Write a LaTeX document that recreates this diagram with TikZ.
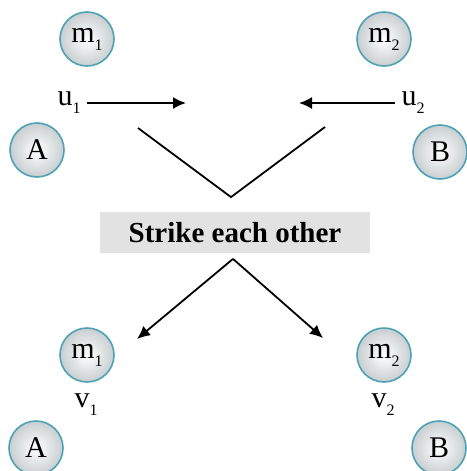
\documentclass[tikz,border=0pt]{standalone}
\usepackage{fontspec}
\setmainfont{Liberation Serif}
\usetikzlibrary{arrows.meta,calc}
\definecolor{ballrim}{RGB}{78,162,182}
\definecolor{ballgray}{RGB}{200,206,208}
\definecolor{boxgray}{RGB}{226,226,226}
\newcommand\idx[1]{\raisebox{-8pt}{\fontsize{16}{16}\selectfont #1}}

\begin{document}
\begin{tikzpicture}[>={Latex[length=13pt,width=12pt]},x=1pt,y=-1pt,line width=1.8pt,
  ball/.style={circle,draw=ballrim,line width=1.6pt,inner color=white,outer color=ballgray,minimum size=54pt,inner sep=0pt,font=\fontsize{30}{32}\selectfont},
  lab/.style={font=\fontsize{30}{32}\selectfont,inner sep=1pt}]
\useasboundingbox (0,0) rectangle (466,471);
% balls before and after
\foreach \n/\x/\y/\t in {m1/87/39/m\idx{1},m2/384/39/m\idx{2},A/37/150/A,B/440/152/B,
  mm1/87/355/m\idx{1},mm2/384/355/m\idx{2},AA/36/448/A,BB/439/448/B}
  \node[ball] (\n) at (\x,\y) {\t};
\node[lab] (u1) at (69,103) {u\idx{1}};
\node[lab] (u2) at (413,103) {u\idx{2}};
\node[lab] (v1) at (86,405) {v\idx{1}};
\node[lab] (v2) at (383,405) {v\idx{2}};
\coordinate (u1h) at (186,103);
\coordinate (u2h) at (299,103);
\draw[->,shorten <=5pt] (u1.east |- u1h) -- (u1h);
\draw[->,shorten <=5pt] (u2.west |- u2h) -- (u2h);
% collision
\node[fill=boxgray,minimum width=270pt,minimum height=41pt,inner sep=0pt,font=\bfseries\fontsize{29}{30}\selectfont] (hit) at (235,232.5) {Strike each other};
\coordinate (lt) at (138,128);
\coordinate (rt) at (325,127);
\coordinate (apx) at ($(hit.north)+(-4,-14)$);
\draw (lt) -- (apx) -- (rt);
\coordinate (bot) at ($(hit.south)+(-2,5)$);
\coordinate (lb) at (137,339);
\coordinate (rb) at (323,338);
\draw[->] (bot) -- (lb);
\draw[->] (bot) -- (rb);
\end{tikzpicture}
\end{document}
